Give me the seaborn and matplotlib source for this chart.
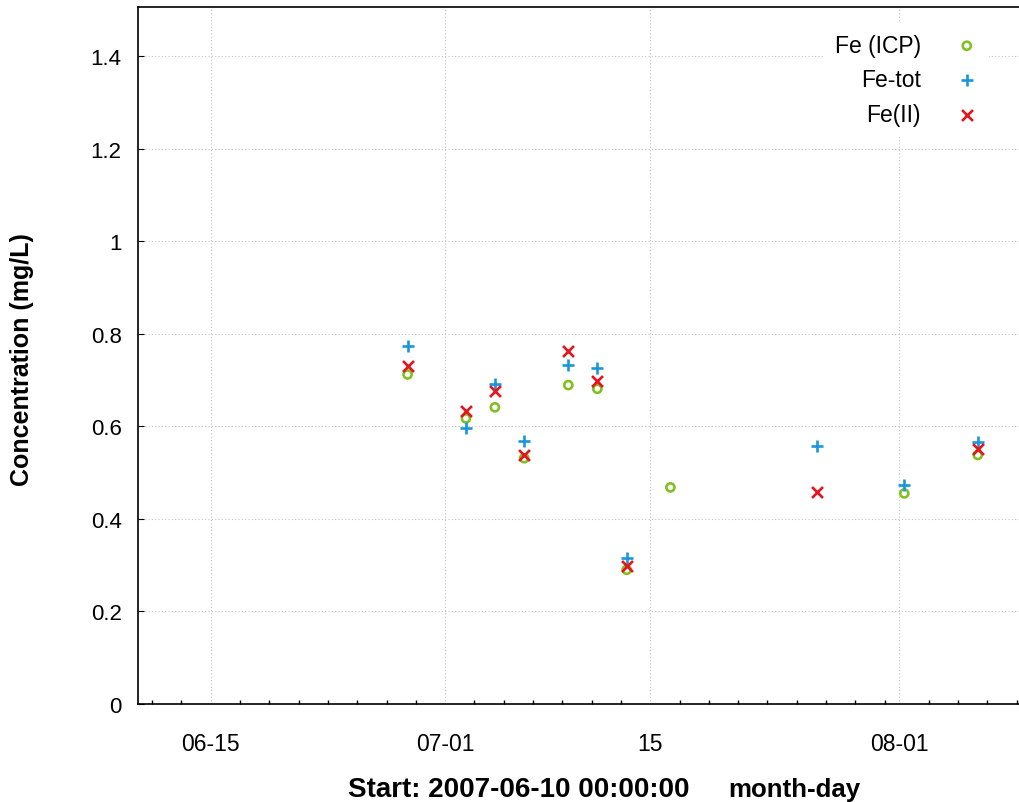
import numpy as np
import pandas as pd
import matplotlib
matplotlib.use("Agg")
import matplotlib.pyplot as plt
import matplotlib.dates as mdates
import matplotlib.ticker as mticker
import seaborn as sns

# ---------------- data ----------------
sample_times = ["2007-06-28 10:30", "2007-07-02 10:00", "2007-07-04 09:30",
                "2007-07-06 09:30", "2007-07-09 09:50", "2007-07-11 09:20",
                "2007-07-13 09:20", "2007-07-16 09:00", "2007-07-26 09:10",
                "2007-08-01 08:10", "2007-08-06 08:30"]
fe_icp = [0.712, 0.617, 0.641, 0.531, 0.689, 0.681, 0.290, 0.468, np.nan, 0.455, 0.538]
fe_tot = [0.773, 0.597, 0.691, 0.568, 0.733, 0.726, 0.315, np.nan, 0.558, 0.473, 0.565]
fe_ii = [0.731, 0.632, 0.677, 0.539, 0.762, 0.697, 0.299, np.nan, 0.459, np.nan, 0.551]

series_names = ["Fe (ICP)", "Fe-tot", "Fe(II)"]
x_start = "2007-06-10 00:00"
x_major = ["2007-06-15", "2007-07-01", "2007-07-15", "2007-08-01"]
x_major_labels = ["06-15", "07-01", "15", "08-01"]
y_ticks = [0, 0.2, 0.4, 0.6, 0.8, 1.0, 1.2, 1.4]

df = pd.DataFrame({"time": pd.to_datetime(sample_times),
                   "Fe (ICP)": fe_icp, "Fe-tot": fe_tot, "Fe(II)": fe_ii})

# ---------------- style ----------------
sns.set_style("white")
plt.rcParams["font.family"] = ["Liberation Sans", "DejaVu Sans"]
plt.rcParams["text.color"] = "black"
plt.rcParams["axes.labelcolor"] = "black"
plt.rcParams["xtick.color"] = "black"
plt.rcParams["ytick.color"] = "black"

W, H = 1019, 803
fig = plt.figure(figsize=(W / 100, H / 100), dpi=100)
ax_l, ax_b, ax_r, ax_t = 137.5, 705.0, 1019.0, 7.5
ax = fig.add_axes([ax_l / W, (H - ax_b) / H, (ax_r - ax_l) / W, (ax_b - ax_t) / H])

green = "#82c021"
blue = "#1a96dc"
red = "#e3141e"

sns.scatterplot(data=df, x="time", y="Fe (ICP)", ax=ax, marker="o", s=34,
                facecolors="none", edgecolor=green, linewidth=1.9,
                label="Fe (ICP)", zorder=3)
sns.scatterplot(data=df, x="time", y="Fe-tot", ax=ax, marker="+", s=80,
                color=blue, linewidth=1.9, label="Fe-tot", zorder=3)
sns.scatterplot(data=df, x="time", y="Fe(II)", ax=ax, marker="x", s=62,
                color=red, linewidth=1.9, label="Fe(II)", zorder=3)

# ---------------- axes ----------------
px_per_day = 14.65
x0 = mdates.date2num(pd.Timestamp(x_start))
ax.set_xlim(x0, x0 + (ax_r - ax_l) / px_per_day)
ax.set_ylim(0, (ax_b - ax_t) / 462.86)

ax.xaxis.set_major_locator(mticker.FixedLocator(
    [mdates.date2num(pd.Timestamp(d)) for d in x_major]))
ax.xaxis.set_major_formatter(mticker.FixedFormatter(x_major_labels))
ax.xaxis.set_minor_locator(mdates.DayLocator(bymonthday=range(1, 32, 2)))

ax.yaxis.set_major_locator(mticker.FixedLocator(y_ticks))
ax.yaxis.set_major_formatter(mticker.FuncFormatter(lambda v, p: f"{v:g}"))

ax.tick_params(axis="x", which="major", direction="in", length=6, width=1.0,
               labelsize=16.5, pad=20, colors="black")
ax.tick_params(axis="x", which="minor", direction="in", length=3, width=1.0,
               bottom=True, colors="black")
ax.tick_params(axis="y", which="major", direction="in", length=4, width=0.8,
               labelsize=16, pad=11.5, left=True, colors="black")

ax.grid(True, which="major", color="#c4c4c4", linestyle=(0, (1, 2)), linewidth=0.8)
ax.set_axisbelow(True)

for side in ["left", "bottom", "top"]:
    ax.spines[side].set_visible(True)
    ax.spines[side].set_color("black")
    ax.spines[side].set_linewidth(1.2)
ax.spines["right"].set_visible(False)

# x axis label in two parts
ax.set_xlabel("")
fig.text(518.5 / W, 1 - 790 / H, "Start: 2007-06-10 00:00:00", fontsize=20,
         fontweight="bold", ha="center", va="center", color="black")
fig.text(794.5 / W, 1 - 790 / H, "month-day", fontsize=18.6,
         fontweight="bold", ha="center", va="center", color="black")

ax.set_ylabel("Concentration (mg/L)", fontsize=18, fontweight="bold", color="black")
ax.yaxis.set_label_coords((22 - ax_l) / (ax_r - ax_l), (ax_b - 360) / (ax_b - ax_t))
ax.yaxis.label.set_va("center")

leg = ax.legend(loc="upper right", markerfirst=False, numpoints=1, scatterpoints=1,
                fontsize=16.5, frameon=True, framealpha=1.0, facecolor="white",
                edgecolor="none", fancybox=False, handlelength=1.0,
                handletextpad=1.5, labelspacing=0.5, borderpad=0.45,
                bbox_to_anchor=((1000 - ax_l) / (ax_r - ax_l),
                                (ax_b - 13) / (ax_b - ax_t)))
for t in leg.get_texts():
    t.set_color("black")

fig.savefig("out.png", dpi=100)
